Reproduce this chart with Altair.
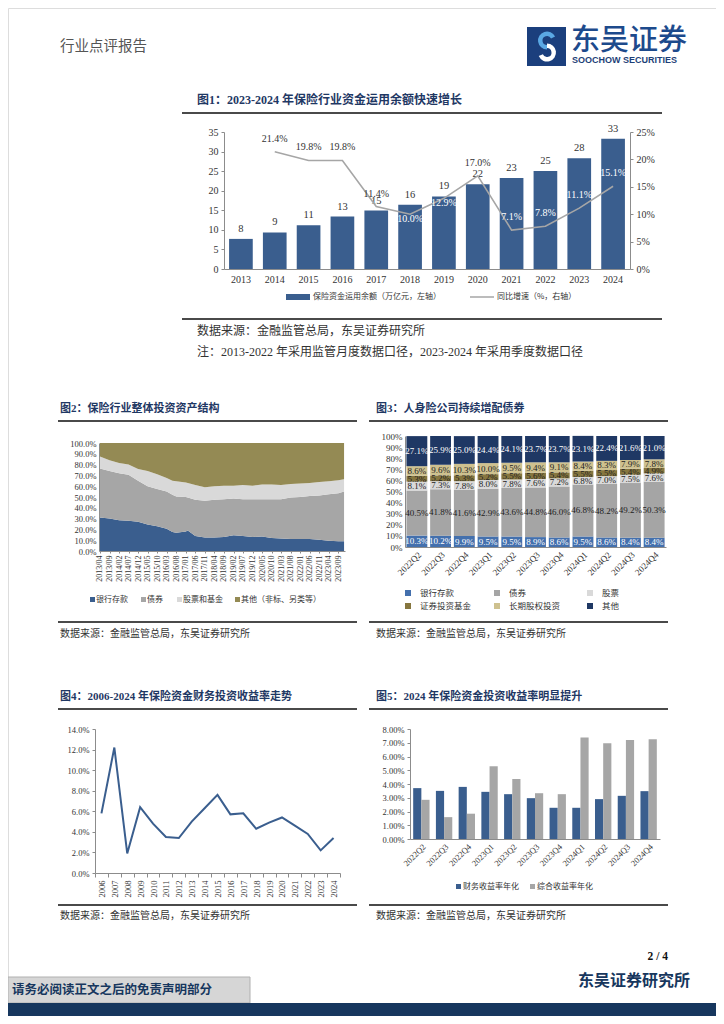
import altair as alt
import pandas as pd

# ======================= data =======================
# Figure 1
fig1_years = ["2013", "2014", "2015", "2016", "2017", "2018", "2019", "2020", "2021", "2022", "2023", "2024"]
fig1_balance = [7.69, 9.33, 11.18, 13.39, 14.92, 16.41, 18.53, 21.68, 23.23, 25.05, 28.3, 33.3]
fig1_growth_years = ["2014", "2015", "2016", "2017", "2018", "2019", "2020", "2021", "2022", "2023", "2024"]
fig1_growth = [21.4, 19.8, 19.8, 11.4, 10.0, 12.9, 17.0, 7.1, 7.8, 11.1, 15.1]
fig1_white_labels = ["2018", "2019", "2021", "2022", "2023", "2024"]
fig1_low_labels = ["2018", "2019"]
fig1_legend = ["保险资金运用余额（万亿元，左轴）", "同比增速（%，右轴）"]

# Figure 2 (shares of total investment assets, %)
fig2_series = ["银行存款", "债券", "股票和基金", "其他（非标、另类等）"]
fig2_months = ["2013-04-01", "2013-09-01", "2014-02-01", "2014-07-01", "2014-12-01", "2015-05-01",
               "2015-10-01", "2016-03-01", "2016-06-01", "2016-08-01", "2017-01-01", "2017-02-01",
               "2017-06-01", "2017-11-01", "2018-04-01", "2018-09-01", "2019-02-01", "2019-07-01",
               "2019-12-01", "2020-05-01", "2020-10-01", "2021-03-01", "2021-08-01", "2022-01-01",
               "2022-06-01", "2022-11-01", "2023-04-01", "2023-09-01", "2023-12-01"]
fig2_deposit = [31.0, 30.0, 28.5, 28.0, 27.0, 24.5, 23.0, 20.5, 17.5, 17.0, 18.0, 19.0, 14.0, 12.5, 12.5,
                13.0, 14.5, 14.0, 13.0, 13.5, 12.0, 11.5, 11.0, 11.0, 11.0, 10.5, 9.5, 9.0, 9.0]
fig2_bond = [45.5, 44.0, 43.5, 42.5, 38.0, 35.5, 34.5, 34.5, 34.5, 33.5, 32.0, 30.5, 33.5, 34.0, 35.0,
             35.0, 34.0, 34.0, 35.0, 34.5, 36.0, 36.5, 38.5, 39.0, 40.0, 41.0, 43.0, 44.5, 46.0]
fig2_equity = [11.0, 10.0, 9.5, 9.5, 11.0, 14.0, 13.5, 12.5, 13.0, 14.0, 13.5, 13.5, 13.5, 12.5, 12.5,
               12.5, 12.0, 13.0, 12.5, 13.5, 13.5, 13.0, 12.5, 12.5, 12.0, 12.5, 12.0, 12.0, 11.5]
fig2_other = [12.5, 16.0, 18.5, 20.0, 24.0, 26.0, 29.0, 32.5, 35.0, 35.5, 36.5, 37.0, 39.0, 41.0, 40.0,
              39.5, 39.5, 39.0, 39.5, 38.5, 38.5, 39.0, 38.0, 37.5, 37.0, 36.0, 35.5, 34.5, 33.5]
fig2_tick_months = ["2013-04", "2013-09", "2014-02", "2014-07", "2014-12", "2015-05", "2015-10", "2016-03",
                    "2016-08", "2017-01", "2017-06", "2017-11", "2018-04", "2018-09", "2019-02", "2019-07",
                    "2019-12", "2020-05", "2020-10", "2021-03", "2021-08", "2022-01", "2022-06", "2022-11",
                    "2023-04", "2023-09"]

# Figure 3 (life insurers' allocation, %)
fig3_quarters = ["2022Q2", "2022Q3", "2022Q4", "2023Q1", "2023Q2", "2023Q3", "2023Q4",
                 "2024Q1", "2024Q2", "2024Q3", "2024Q4"]
fig3_series = ["银行存款", "债券", "股票", "证券投资基金", "长期股权投资", "其他"]
fig3_deposit = [10.3, 10.2, 9.9, 9.5, 9.5, 8.9, 8.6, 9.5, 8.6, 8.4, 8.4]
fig3_bond = [40.5, 41.8, 41.6, 42.9, 43.6, 44.8, 46.0, 46.8, 48.2, 49.2, 50.3]
fig3_stock = [8.1, 7.3, 7.8, 8.0, 7.8, 7.6, 7.2, 6.8, 7.0, 7.5, 7.6]
fig3_fund = [5.3, 5.2, 5.3, 5.2, 5.5, 5.6, 5.4, 5.5, 5.5, 5.4, 4.9]
fig3_equity_inv = [8.6, 9.6, 10.3, 10.0, 9.5, 9.4, 9.1, 8.4, 8.3, 7.9, 7.8]
fig3_other = [27.1, 25.9, 25.0, 24.4, 24.1, 23.7, 23.7, 23.1, 22.4, 21.6, 21.0]
fig3_white_series = ["银行存款", "其他"]

# Figure 4 (financial investment yield, %)
fig4_years = ["2006", "2007", "2008", "2009", "2010", "2011", "2012", "2013", "2014", "2015",
              "2016", "2017", "2018", "2019", "2020", "2021", "2022", "2023", "2024"]
fig4_yield = [5.8, 12.2, 1.9, 6.4, 4.8, 3.5, 3.4, 5.0, 6.3, 7.6, 5.7, 5.8, 4.3, 4.9, 5.4, 4.6, 3.8, 2.2, 3.4]

# Figure 5 (annualised yields, %)
fig5_quarters = fig3_quarters
fig5_series = ["财务收益率年化", "综合收益率年化"]
fig5_financial = [3.70, 3.50, 3.79, 3.43, 3.26, 2.97, 2.27, 2.27, 2.90, 3.14, 3.48]
fig5_comprehensive = [2.85, 1.59, 1.84, 5.29, 4.37, 3.33, 3.26, 7.39, 6.96, 7.20, 7.25]

# ======================= page helpers =======================
W, H = 708, 1008


def X(v):
    return v - 8


def Y(v):
    return v - 8


SERIF = "Liberation Serif, Noto Sans CJK SC, serif"
CJK = "Noto Sans CJK SC, sans-serif"
TXT = "#333333"
TITLE = "#1f3864"
BLUE = "#3a5e8e"
LINEGREY = "#a6a6a6"
RULE = "#4a4a4a"
AXC = "#8c8c8c"

one = pd.DataFrame({"k": [0]})


def txt(s, x, y, size, color=TXT, weight="normal", align="left", font=SERIF):
    return alt.Chart(one).mark_text(text=s, align=align, baseline="middle", fontSize=size,
                                    font=font, fontWeight=weight, color=color).encode(
        x=alt.value(X(x)), y=alt.value(Y(y)))


def hline(x1, x2, y, color=RULE, width=2.2):
    return alt.Chart(one).mark_rule(color=color, strokeWidth=width).encode(
        x=alt.value(X(x1)), x2=alt.value(X(x2)), y=alt.value(Y(y)))


def box(x1, y1, x2, y2, fill, stroke=None):
    kw = dict(color=fill)
    if stroke:
        kw.update(stroke=stroke, strokeWidth=1)
    return alt.Chart(one).mark_rect(**kw).encode(
        x=alt.value(X(x1)), x2=alt.value(X(x2)), y=alt.value(Y(y1)), y2=alt.value(Y(y2)))


def axis(orient, offset, **kw):
    base = dict(orient=orient, offset=offset, grid=False, title=None, labelFont=SERIF,
                labelColor=TXT, domainColor=AXC, tickColor=AXC, labelOverlap=False,
                labelFlush=False)
    base.update(kw)
    return alt.Axis(**base)


def dt(s):
    parts = s.split("-")
    return alt.DateTime(year=int(parts[0]), month=int(parts[1]),
                        date=int(parts[2]) if len(parts) > 2 else 1, utc=True)


layers = []

# ======================= header =======================
layers += [
    txt("行业点评报告", 60, 47, 14.5, color="#555555", font=CJK),
    box(527, 27, 566, 66, "#1b3f7d"),
    alt.Chart(one).mark_arc(radius=9, radius2=4.5, theta=3.1416, theta2=7.4, color="#5aa8e4").encode(
        x=alt.value(X(547)), y=alt.value(Y(40.5))),
    alt.Chart(one).mark_arc(radius=9, radius2=4.5, theta=0.0, theta2=4.3, color="#ffffff").encode(
        x=alt.value(X(547)), y=alt.value(Y(52.5))),
    txt("东吴证券", 571, 41, 29, color="#1d4a8c", font=CJK, weight=500),
    txt("SOOCHOW SECURITIES", 572, 60, 9, color="#1d3f78", weight="bold",
        font="Liberation Sans, sans-serif"),
]

# ======================= figure 1 =======================
layers += [
    txt("图1：2023-2024 年保险行业资金运用余额快速增长", 197, 100, 12, color=TITLE, weight="bold"),
    hline(182, 662, 113),
    box(286, 294, 310, 300, BLUE),
    txt(fig1_legend[0], 313, 297, 8, font=CJK),
    hline(470, 494, 297, color=LINEGREY, width=1.5),
    txt(fig1_legend[1], 497, 297, 8, font=CJK),
    hline(182, 662, 319),
    txt("数据来源：金融监管总局，东吴证券研究所", 197, 331, 12),
    txt("注：2013-2022 年采用监管月度数据口径，2023-2024 年采用季度数据口径", 197, 352, 12),
]

f1 = pd.DataFrame({"year": fig1_years, "balance": fig1_balance})
g1 = pd.DataFrame({"year": fig1_growth_years, "growth": fig1_growth})
g1["lab"] = [f"{v:.1f}%" for v in fig1_growth]
g1_dark = g1[~g1["year"].isin(fig1_white_labels)]
g1_white_up = g1[g1["year"].isin(fig1_white_labels) & ~g1["year"].isin(fig1_low_labels)]
g1_white_low = g1[g1["year"].isin(fig1_low_labels)]

x1 = alt.X("year:N", sort=fig1_years,
           scale=alt.Scale(type="band", domain=fig1_years, range=[X(224), X(630)],
                           paddingInner=0.3, paddingOuter=0.15),
           axis=axis("bottom", Y(269) - H, labelAngle=0, ticks=False, labelFontSize=10, labelPadding=5))
y1l = alt.Y("balance:Q", scale=alt.Scale(domain=[0, 35], range=[Y(269), Y(132)], nice=False),
            axis=axis("left", -X(224), values=list(range(0, 36, 5)), tickSize=3, labelFontSize=10,
                      labelPadding=3))
y1r = alt.Y("growth:Q", scale=alt.Scale(domain=[0, 25], range=[Y(269), Y(132)], nice=False),
            axis=axis("right", X(630) - W, values=list(range(0, 26, 5)), tickSize=3, labelFontSize=10,
                      labelPadding=3, labelExpr="datum.value + '%'"))

bars1 = alt.Chart(f1).mark_bar(color=BLUE).encode(x=x1, y=y1l)
btxt1 = alt.Chart(f1).mark_text(dy=-10, font=SERIF, fontSize=10.5, color=TXT).encode(
    x=x1, y=y1l, text=alt.Text("balance:Q", format=".0f"))
line1 = alt.Chart(g1).mark_line(color=LINEGREY, strokeWidth=1.6).encode(x=x1, y=y1r)
gt_dark = alt.Chart(g1_dark).mark_text(dy=-13, font=SERIF, fontSize=10, color=TXT).encode(
    x=x1, y=y1r, text="lab:N")
gt_up = alt.Chart(g1_white_up).mark_text(dy=-13, font=SERIF, fontSize=10, color="white").encode(
    x=x1, y=y1r, text="lab:N")
gt_low = alt.Chart(g1_white_low).mark_text(dy=5, font=SERIF, fontSize=10, color="white").encode(
    x=x1, y=y1r, text="lab:N")
panel1 = alt.layer(alt.layer(bars1, btxt1), alt.layer(line1, gt_dark, gt_up, gt_low)).resolve_scale(
    y="independent")
layers.append(panel1)

# ======================= figure 2 =======================
fig2_colors = [BLUE, "#a6a6a6", "#d9d9d9", "#948a54"]
layers += [
    txt("图2：保险行业整体投资资产结构", 60, 409, 11, color=TITLE, weight="bold"),
    hline(58, 357, 421),
    hline(58, 357, 622),
    txt("数据来源：金融监管总局，东吴证券研究所", 60, 634, 10),
]
for sx, tx, name, col in zip([90, 141, 177, 235], [96, 147, 183, 241], fig2_series, fig2_colors):
    layers += [box(sx, 597, sx + 5, 602, col), txt(name, tx, 600, 8, font=CJK)]

rows2 = []
for i, m in enumerate(fig2_months):
    base = 0.0
    for name, vals in zip(fig2_series, [fig2_deposit, fig2_bond, fig2_equity, fig2_other]):
        rows2.append({"month": m, "series": name, "bottom": base, "top": base + vals[i]})
        base += vals[i]
d2 = pd.DataFrame(rows2)

x2 = alt.X("month:T",
           scale=alt.Scale(type="utc", domain=[dt("2013-03-17"), dt("2023-12-16")], range=[X(99), X(345)]),
           axis=axis("bottom", Y(551) - H, values=[dt(m) for m in fig2_tick_months],
                     labelExpr="utcFormat(datum.value, '%Y/%m')", labelAngle=-90, labelFontSize=8,
                     tickSize=2, labelPadding=2))
y2 = alt.Y("top:Q", scale=alt.Scale(domain=[0, 100], range=[Y(551), Y(443)], nice=False),
           axis=axis("left", -X(99), values=list(range(0, 101, 10)), tickSize=0, labelFontSize=8.5,
                     labelPadding=3, labelExpr="format(datum.value, '.1f') + '%'"))
area2 = alt.Chart(d2).mark_area(opacity=1).encode(
    x=x2, y=y2, y2="bottom:Q",
    color=alt.Color("series:N", scale=alt.Scale(domain=fig2_series, range=fig2_colors), legend=None),
    detail="series:N")
layers.append(area2)

# ======================= figure 3 =======================
fig3_colors = ["#4470ad", "#a5a5a5", "#d9d9d9", "#86763f", "#cec18f", "#1f3864"]
layers += [
    txt("图3：人身险公司持续增配债券", 376, 409, 11, color=TITLE, weight="bold"),
    hline(369, 668, 421),
    hline(369, 668, 622),
    txt("数据来源：金融监管总局，东吴证券研究所", 376, 634, 10),
]
leg3_pos = [(405, 593), (494, 593), (587, 593), (405, 606), (494, 606), (587, 606)]
for (lx, ly), name, col in zip(leg3_pos, fig3_series, fig3_colors):
    layers += [box(lx, ly - 3, lx + 6, ly + 3, col), txt(name, lx + 15, ly, 8.5, font=CJK)]

rows3 = []
for i, q in enumerate(fig3_quarters):
    base = 0.0
    for name, vals in zip(fig3_series, [fig3_deposit, fig3_bond, fig3_stock, fig3_fund,
                                        fig3_equity_inv, fig3_other]):
        v = vals[i]
        rows3.append({"q": q, "series": name, "bottom": base, "top": base + v,
                      "mid": base + v / 2, "lab": f"{v:.1f}%"})
        base += v
d3 = pd.DataFrame(rows3)

x3 = alt.X("q:N", sort=fig3_quarters,
           scale=alt.Scale(type="band", domain=fig3_quarters, range=[X(405), X(666)],
                           paddingInner=0.12, paddingOuter=0.06),
           axis=axis("bottom", Y(547) - H, labelAngle=-45, ticks=False, labelFontSize=9, labelPadding=3))
y3 = alt.Y("top:Q", scale=alt.Scale(domain=[0, 100], range=[Y(547), Y(436)], nice=False),
           axis=axis("left", -X(405), values=list(range(0, 101, 10)), tickSize=0, labelFontSize=9,
                     labelPadding=3, labelExpr="datum.value + '%'"))
y3m = alt.Y("mid:Q", scale=alt.Scale(domain=[0, 100], range=[Y(547), Y(436)], nice=False),
            axis=axis("left", -X(405), values=list(range(0, 101, 10)), tickSize=0, labelFontSize=9,
                      labelPadding=3, labelExpr="datum.value + '%'"))
bars3 = alt.Chart(d3).mark_bar().encode(
    x=x3, y=y3, y2="bottom:Q",
    color=alt.Color("series:N", scale=alt.Scale(domain=fig3_series, range=fig3_colors), legend=None))
t3w = alt.Chart(d3[d3["series"].isin(fig3_white_series)]).mark_text(
    font=SERIF, fontSize=9, color="white").encode(x=x3, y=y3m, text="lab:N")
t3d = alt.Chart(d3[~d3["series"].isin(fig3_white_series)]).mark_text(
    font=SERIF, fontSize=9, color="#222222").encode(x=x3, y=y3m, text="lab:N")
layers.append(alt.layer(bars3, t3w, t3d))

# ======================= figure 4 =======================
layers += [
    txt("图4：2006-2024 年保险资金财务投资收益率走势", 60, 697, 11, color=TITLE, weight="bold"),
    hline(58, 357, 709),
    hline(58, 357, 905),
    txt("数据来源：金融监管总局，东吴证券研究所", 60, 916, 10),
]
d4 = pd.DataFrame({"year": fig4_years, "v": fig4_yield})
x4 = alt.X("year:N", sort=fig4_years,
           scale=alt.Scale(type="band", domain=fig4_years, range=[X(95), X(340)],
                           paddingInner=0, paddingOuter=0),
           axis=axis("bottom", Y(873) - H, labelAngle=-90, tickBand="extent", tickSize=4,
                     labelFontSize=8.5, labelPadding=3))
y4 = alt.Y("v:Q", scale=alt.Scale(domain=[0, 14], range=[Y(873), Y(729)], nice=False),
           axis=axis("left", -X(95), values=list(range(0, 15, 2)), tickSize=3, labelFontSize=8.5,
                     labelPadding=3, labelExpr="format(datum.value, '.1f') + '%'"))
line4 = alt.Chart(d4).mark_line(color=BLUE, strokeWidth=2).encode(x=x4, y=y4)
layers.append(line4)

# ======================= figure 5 =======================
fig5_colors = [BLUE, "#a6a6a6"]
layers += [
    txt("图5：2024 年保险资金投资收益率明显提升", 376, 697, 11, color=TITLE, weight="bold"),
    hline(369, 668, 709),
    hline(369, 668, 905),
    txt("数据来源：金融监管总局，东吴证券研究所", 376, 916, 10),
]
for sx, name, col in zip([456, 530], fig5_series, fig5_colors):
    layers += [box(sx, 884, sx + 5, 889, col), txt(name, sx + 7, 887, 8, font=CJK)]

rows5 = []
for i, q in enumerate(fig5_quarters):
    rows5.append({"q": q, "s": fig5_series[0], "v": fig5_financial[i]})
    rows5.append({"q": q, "s": fig5_series[1], "v": fig5_comprehensive[i]})
d5 = pd.DataFrame(rows5)
x5 = alt.X("q:N", sort=fig5_quarters,
           scale=alt.Scale(type="band", domain=fig5_quarters, range=[X(410), X(660)],
                           paddingInner=0.28, paddingOuter=0.14),
           axis=axis("bottom", Y(839) - H, labelAngle=-45, ticks=False, labelFontSize=8.5, labelPadding=3))
y5 = alt.Y("v:Q", scale=alt.Scale(domain=[0, 8], range=[Y(839), Y(729)], nice=False),
           axis=axis("left", -X(410), values=list(range(0, 9)), tickSize=3, labelFontSize=8.5,
                     labelPadding=3, labelExpr="format(datum.value, '.2f') + '%'"))
bars5 = alt.Chart(d5).mark_bar().encode(
    x=x5, y=y5,
    xOffset=alt.XOffset("s:N", sort=fig5_series, scale=alt.Scale(domain=fig5_series)),
    color=alt.Color("s:N", scale=alt.Scale(domain=fig5_series, range=fig5_colors), legend=None))
layers.append(bars5)

# ======================= footer =======================
layers += [
    txt("2 / 4", 668, 957, 11.5, color="#111111", weight="bold", align="right"),
    txt("东吴证券研究所", 690, 981, 16, color="#17375e", weight="bold", align="right"),
    box(8, 977, 250, 1003, "#d6d6d6", stroke="#b0b0b0"),
    txt("请务必阅读正文之后的免责声明部分", 12, 990, 12.5, color="#17375e", weight="bold"),
    box(8, 1003, 716, 1016, "#17375e"),
]

chart = alt.layer(*layers).resolve_scale(
    x="independent", y="independent", color="independent"
).properties(
    width=W, height=H, padding=0, autosize=alt.AutoSizeParams(type="none")
).configure_view(stroke=None).configure(background="white")

chart.save("out.html", embed_options={"renderer": "svg", "actions": False})
